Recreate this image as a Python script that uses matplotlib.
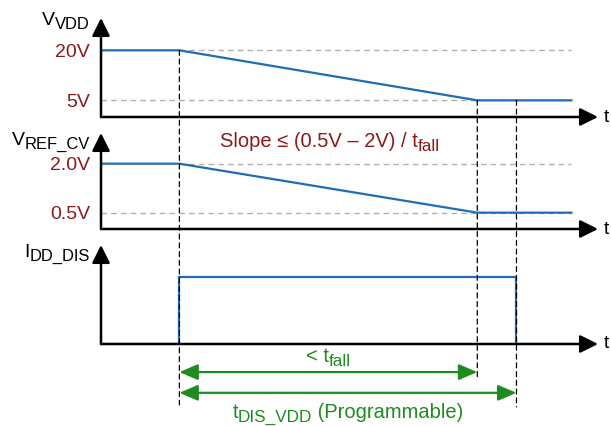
import matplotlib
matplotlib.use("Agg")
import matplotlib.pyplot as plt
from matplotlib.patches import ConnectionPatch

plt.rcParams["font.family"] = ["Liberation Sans", "DejaVu Sans"]

# waveform data (time in arbitrary units)
t_vdd = [0, 1.0, 4.8, 6.0]
vdd = [20, 20, 5, 5]
t_ref = [0, 1.0, 4.8, 6.0]
vref = [2.0, 2.0, 0.5, 0.5]
t_idd = [0, 1.0, 1.0, 5.3, 5.3, 6.0]
idd = [0, 0, 1, 1, 0, 0]

t_fall_start = 1.0
t_fall_end = 4.8
t_dis_end = 5.3
t_stop = 6.0

vdd_ticks = [5, 20]
vdd_ticklabels = ["5V", "20V"]
vref_ticks = [0.5, 2.0]
vref_ticklabels = ["0.5V", "2.0V"]

BLUE = "#1f6db5"
RED = "#8b1a1a"
GREEN = "#1e8c1e"
GREY = "#b0b0b0"


def rich_text(ax, x, y, parts, size, color, ha="center", sub_scale=0.85, sub_drop=3.0):
    """Draw text with subscript parts, anchored at (x, y) baseline in data coords."""
    fig = ax.figure
    renderer = fig.canvas.get_renderer()
    items = []
    for s, is_sub in parts:
        fs = size * sub_scale if is_sub else size
        t = ax.annotate(s, xy=(x, y), xytext=(0, 0), textcoords="offset points",
                        fontsize=fs, color=color, ha="left", va="baseline",
                        annotation_clip=False)
        w = t.get_window_extent(renderer).width * 72.0 / fig.dpi
        items.append((t, w, is_sub))
    total = sum(w for _, w, _ in items)
    start = {"left": 0, "center": -total / 2, "right": -total}[ha]
    for t, w, is_sub in items:
        t.set_position((start, -sub_drop if is_sub else 0))
        start += w
    return items


def axis_arrows(ax):
    kw = dict(arrowstyle="-|>,head_length=0.6,head_width=0.3", color="black",
              lw=1.8, mutation_scale=18, shrinkA=0, shrinkB=0)
    ax.annotate("", xy=(1, 0), xycoords="axes fraction", xytext=(0, 0),
                arrowprops=kw)
    ax.annotate("", xy=(0, 1), xycoords="axes fraction", xytext=(0, 0),
                arrowprops=kw)
    ax.text(1.012, 0, "t", transform=ax.transAxes, ha="left", va="center",
            fontsize=14, color="black")


fig = plt.figure(figsize=(6.11, 4.26), dpi=100)
left, width = 101 / 611, 497 / 611
ax1 = fig.add_axes([left, 309 / 426, width, 99 / 426])
ax2 = fig.add_axes([left, 197 / 426, width, 96 / 426])
ax3 = fig.add_axes([left, 82 / 426, width, 99 / 426])

for ax in (ax1, ax2, ax3):
    ax.set_xlim(0, 6.34)
    for sp in ax.spines.values():
        sp.set_visible(False)
    ax.set_xticks([])
    ax.patch.set_visible(False)
    ax.tick_params(axis="y", length=0, pad=8, labelcolor=RED, labelsize=14)

ax1.set_ylim(0, 29.7)
ax2.set_ylim(0, 2.94)
ax3.set_ylim(0, 1.48)

# reference levels
ax1.plot([t_fall_start, t_stop], [vdd[0]] * 2, color=GREY, lw=1, ls=(0, (4, 3)))
ax1.plot([0, t_stop], [vdd[-1]] * 2, color=GREY, lw=1, ls=(0, (4, 3)))
ax2.plot([t_fall_start, t_stop], [vref[0]] * 2, color=GREY, lw=1, ls=(0, (4, 3)))
ax2.plot([0, t_stop], [vref[-1]] * 2, color=GREY, lw=1, ls=(0, (4, 3)))

for ax in (ax1, ax2, ax3):
    axis_arrows(ax)

ax1.plot(t_vdd, vdd, color=BLUE, lw=1.6, solid_joinstyle="miter")
ax2.plot(t_ref, vref, color=BLUE, lw=1.6, solid_joinstyle="miter")
ax3.plot(t_idd, idd, color=BLUE, lw=1.6, solid_joinstyle="miter")

ax1.set_yticks(vdd_ticks)
ax1.set_yticklabels(vdd_ticklabels)
ax2.set_yticks(vref_ticks)
ax2.set_yticklabels(vref_ticklabels)
ax3.set_yticks([])

# axis labels with subscripts
rich_text(ax1, -0.14, 27.6, [("V", False), ("VDD", True)], 14, "black", ha="right")
rich_text(ax2, -0.14, 2.57, [("V", False), ("REF_CV", True)], 14, "black", ha="right")
rich_text(ax3, -0.14, 1.30, [("I", False), ("DD_DIS", True)], 14, "black", ha="right")

# vertical dashed markers
for xa, ya, yb in [(t_fall_start, vdd[0], -0.91), (t_fall_end, vdd[-1], -0.51),
                   (t_dis_end, vdd[-1], -0.94)]:
    cp = ConnectionPatch(xyA=(xa, ya), coordsA=ax1.transData,
                         xyB=(xa, yb), coordsB=ax3.transData,
                         color="black", lw=0.9, linestyle=(0, (4, 3)))
    fig.add_artist(cp)

# slope annotation
rich_text(ax2, (t_fall_start + t_fall_end) / 2 + 0.02, 2.51,
          [("Slope \u2264 (0.5V \u2013 2V) / t", False), ("fall", True)], 14.5, RED)

# timing arrows
akw = dict(arrowstyle="<|-|>,head_length=0.7,head_width=0.3", color=GREEN, lw=1.6,
           mutation_scale=16, shrinkA=0, shrinkB=0)
ax3.annotate("", xy=(t_fall_end, -0.42), xytext=(t_fall_start, -0.42),
             arrowprops=akw, annotation_clip=False)
ax3.annotate("", xy=(t_dis_end, -0.73), xytext=(t_fall_start, -0.73),
             arrowprops=akw, annotation_clip=False)
rich_text(ax3, (t_fall_start + t_fall_end) / 2, -0.27,
          [("< t", False), ("fall", True)], 14.5, GREEN)
rich_text(ax3, (t_fall_start + t_dis_end) / 2, -1.106,
          [("t", False), ("DIS_VDD", True), (" (Programmable)", False)], 14.5, GREEN)

fig.savefig("out.png", dpi=100)
